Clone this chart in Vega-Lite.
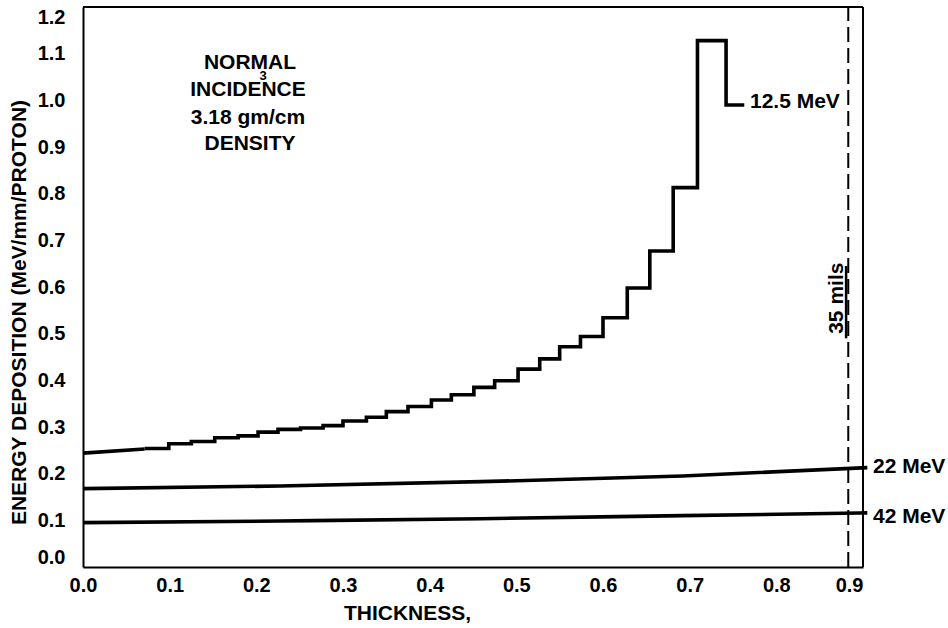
{
  "$schema": "https://vega.github.io/schema/vega-lite/v6.json",
  "width": 780,
  "height": 560,
  "autosize": {"type": "none"},
  "padding": {"left": 83, "top": 7, "right": 85, "bottom": 61},
  "background": "white",
  "config": {
    "view": {"stroke": null},
    "font": "Liberation Sans",
    "axis": {
      "domainColor": "black", "domainWidth": 2, "ticks": false, "grid": false,
      "labelFont": "Liberation Sans", "labelFontWeight": "bold", "labelFontSize": 20, "labelColor": "black",
      "titleFont": "Liberation Sans", "titleFontWeight": "bold", "titleFontSize": 21, "titleColor": "black"
    },
    "text": {"font": "Liberation Sans", "fontWeight": "bold", "color": "black"}
  },
  "datasets": {
    "step125": [
      {"x": 0.071, "y": 0.254}, {"x": 0.099, "y": 0.264}, {"x": 0.125, "y": 0.269},
      {"x": 0.152, "y": 0.277}, {"x": 0.179, "y": 0.281}, {"x": 0.202, "y": 0.289},
      {"x": 0.225, "y": 0.295}, {"x": 0.251, "y": 0.298}, {"x": 0.277, "y": 0.303},
      {"x": 0.300, "y": 0.313}, {"x": 0.327, "y": 0.321}, {"x": 0.350, "y": 0.333},
      {"x": 0.375, "y": 0.344}, {"x": 0.402, "y": 0.358}, {"x": 0.425, "y": 0.369},
      {"x": 0.451, "y": 0.385}, {"x": 0.475, "y": 0.399}, {"x": 0.502, "y": 0.424},
      {"x": 0.527, "y": 0.446}, {"x": 0.550, "y": 0.472}, {"x": 0.574, "y": 0.494},
      {"x": 0.600, "y": 0.534}, {"x": 0.628, "y": 0.598}, {"x": 0.654, "y": 0.677},
      {"x": 0.681, "y": 0.813}, {"x": 0.709, "y": 1.128}, {"x": 0.742, "y": 0.990},
      {"x": 0.763, "y": 0.990}
    ],
    "start125": [{"x": 0.0, "y": 0.244}, {"x": 0.071, "y": 0.253}],
    "mev22": [
      {"x": 0.0, "y": 0.168}, {"x": 0.227, "y": 0.1736}, {"x": 0.459, "y": 0.183},
      {"x": 0.692, "y": 0.195}, {"x": 0.905, "y": 0.213}
    ],
    "mev42": [
      {"x": 0.0, "y": 0.095}, {"x": 0.227, "y": 0.0986}, {"x": 0.459, "y": 0.1035},
      {"x": 0.692, "y": 0.110}, {"x": 0.905, "y": 0.116}
    ],
    "xticks": [
      {"x": 0.1}, {"x": 0.2}, {"x": 0.3}, {"x": 0.4}, {"x": 0.5}, {"x": 0.6}, {"x": 0.7}, {"x": 0.8}
    ],
    "yticks": [
      {"y": 0.1}, {"y": 0.2}, {"y": 0.3}, {"y": 0.4}, {"y": 0.5}, {"y": 0.6},
      {"y": 0.7}, {"y": 0.8}, {"y": 0.9}, {"y": 1.0}, {"y": 1.1}
    ],
    "topBorder": [{"x": 0, "x2": 0.9, "y": 1.2}],
    "rightBorder": [{"x": 0.9, "y": 0, "y2": 1.2}],
    "dash": [{"x": 0.883, "y": 0, "y2": 1.2}],
    "underline": [{"x": 0.8805, "y": 0.49, "y2": 0.645}],
    "notes": [
      {"x": 0.1927, "y": 1.08, "text": "NORMAL"},
      {"x": 0.1904, "y": 1.022, "text": "INCIDENCE"},
      {"x": 0.1904, "y": 0.962, "text": "3.18 gm/cm"},
      {"x": 0.1927, "y": 0.906, "text": "DENSITY"}
    ],
    "sup": [{"x": 0.2077, "y": 1.052, "text": "3"}],
    "energies": [
      {"x": 0.7696, "y": 0.997, "text": "12.5 MeV"},
      {"x": 0.9115, "y": 0.215, "text": "22 MeV"},
      {"x": 0.9115, "y": 0.108, "text": "42 MeV"}
    ],
    "mils": [{"x": 0.8696, "y": 0.576, "text": "35 mils"}]
  },
  "encoding": {
    "x": {
      "field": "x", "type": "quantitative",
      "scale": {"domain": [0, 0.9], "nice": false, "zero": false},
      "axis": {
        "orient": "bottom",
        "values": [0, 0.1, 0.2, 0.3, 0.4, 0.5, 0.6, 0.7, 0.8, 0.9],
        "format": ".1f",
        "title": "THICKNESS,",
        "titleX": 324,
        "titlePadding": 7,
        "labelPadding": 8,
        "labelAlign": {"condition": {"test": "datum.value >= 0.9", "value": "right"}, "value": "center"}
      }
    },
    "y": {
      "field": "y", "type": "quantitative",
      "scale": {"domain": [0, 1.2], "nice": false, "zero": false},
      "axis": {
        "orient": "left",
        "values": [0, 0.1, 0.2, 0.3, 0.4, 0.5, 0.6, 0.7, 0.8, 0.9, 1.0, 1.1, 1.2],
        "format": ".1f",
        "title": "ENERGY DEPOSITION (MeV/mm/PROTON)",
        "titleY": 305,
        "titlePadding": 8,
        "labelPadding": 18,
        "labelFlush": true
      }
    }
  },
  "layer": [
    {
      "data": {"name": "topBorder"},
      "mark": {"type": "rule", "color": "black", "strokeWidth": 2},
      "encoding": {"x2": {"field": "x2"}}
    },
    {
      "data": {"name": "rightBorder"},
      "mark": {"type": "rule", "color": "black", "strokeWidth": 2},
      "encoding": {"y2": {"field": "y2"}}
    },
    {
      "data": {"name": "xticks"},
      "mark": {"type": "rule", "color": "black", "strokeWidth": 2, "y2Offset": -14},
      "encoding": {"y": {"datum": 0, "type": "quantitative"}, "y2": {"datum": 0}}
    },
    {
      "data": {"name": "xticks"},
      "mark": {"type": "rule", "color": "black", "strokeWidth": 2, "y2Offset": 14},
      "encoding": {"y": {"datum": 1.2, "type": "quantitative"}, "y2": {"datum": 1.2}}
    },
    {
      "data": {"name": "yticks"},
      "mark": {"type": "rule", "color": "black", "strokeWidth": 2, "x2Offset": 14},
      "encoding": {"x": {"datum": 0, "type": "quantitative"}, "x2": {"datum": 0}}
    },
    {
      "data": {"name": "yticks"},
      "mark": {"type": "rule", "color": "black", "strokeWidth": 2, "x2Offset": -14},
      "encoding": {"x": {"datum": 0.9, "type": "quantitative"}, "x2": {"datum": 0.9}}
    },
    {
      "data": {"name": "step125"},
      "mark": {"type": "line", "interpolate": "step-after", "color": "black", "strokeWidth": 3.6, "strokeJoin": "miter", "strokeCap": "butt"}
    },
    {
      "data": {"name": "start125"},
      "mark": {"type": "line", "color": "black", "strokeWidth": 3.6, "strokeCap": "butt"}
    },
    {
      "data": {"name": "mev22"},
      "mark": {"type": "line", "interpolate": "monotone", "color": "black", "strokeWidth": 3.6, "strokeCap": "butt"}
    },
    {
      "data": {"name": "mev42"},
      "mark": {"type": "line", "interpolate": "monotone", "color": "black", "strokeWidth": 3.6, "strokeCap": "butt"}
    },
    {
      "data": {"name": "dash"},
      "mark": {"type": "rule", "color": "black", "strokeWidth": 2, "strokeDash": [15, 6]},
      "encoding": {"y2": {"field": "y2"}}
    },
    {
      "data": {"name": "underline"},
      "mark": {"type": "rule", "color": "black", "strokeWidth": 2.5},
      "encoding": {"y2": {"field": "y2"}}
    },
    {
      "data": {"name": "notes"},
      "mark": {"type": "text", "fontSize": 21, "align": "center", "baseline": "middle"},
      "encoding": {"text": {"field": "text"}}
    },
    {
      "data": {"name": "sup"},
      "mark": {"type": "text", "fontSize": 13, "align": "center", "baseline": "middle"},
      "encoding": {"text": {"field": "text"}}
    },
    {
      "data": {"name": "energies"},
      "mark": {"type": "text", "fontSize": 21, "align": "left", "baseline": "middle"},
      "encoding": {"text": {"field": "text"}}
    },
    {
      "data": {"name": "mils"},
      "mark": {"type": "text", "fontSize": 21, "align": "center", "baseline": "middle", "angle": 270},
      "encoding": {"text": {"field": "text"}}
    }
  ]
}
